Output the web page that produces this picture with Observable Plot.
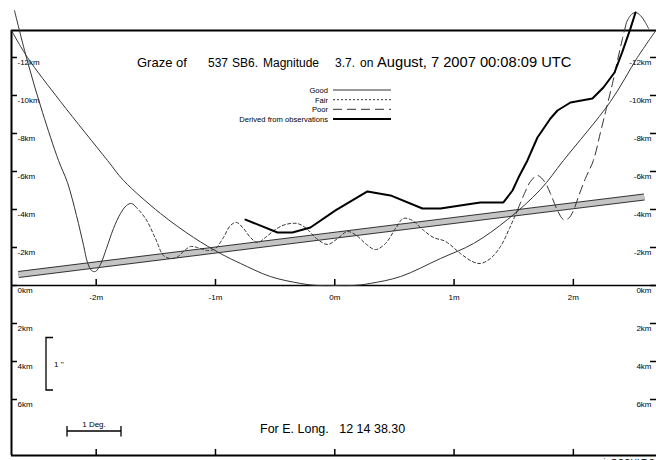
<!DOCTYPE html>
<html><head><meta charset="utf-8">
<script src="https://cdn.jsdelivr.net/npm/d3@7"></script>
<script src="https://cdn.jsdelivr.net/npm/@observablehq/plot@0.6"></script>
<style>
html,body{margin:0;padding:0;background:#fff;}
#chart{position:relative;width:656px;height:460px;overflow:hidden;}
#chart text{white-space:pre;}
</style></head><body><div id="chart"></div>
<script>
// ---- tick definitions ----
const xTicks = [-2, -1, 0, 1, 2];
const xTickLabels = ["-2m", "-1m", "0m", "1m", "2m"];
const yTicks = [-12, -10, -8, -6, -4, -2, 0, 2, 4, 6];
const yTickLabels = ["-12km", "-10km", "-8km", "-6km", "-4km", "-2km", "0km", "2km", "4km", "6km"];
const xDomain = [-2.710, 2.697];   // minutes
const yDomain = [-13.42, 8.947];   // km (negative up)

// ---- series (minutes, km) ----
const limitCurve = [
  [-2.710, -13.42], [-2.576, -12.0], [-2.299, -9.68], [-1.905, -6.58], [-1.771, -5.53],
  [-1.461, -3.79], [-1.184, -2.53], [-0.958, -1.68], [-0.790, -1.16], [-0.539, -0.47],
  [-0.288, -0.11], [-0.145, 0.0], [0.0, 0.0], [0.157, 0.0], [0.299, -0.11], [0.551, -0.47],
  [0.886, -1.42], [1.163, -2.21], [1.448, -3.47], [1.724, -5.05], [1.917, -6.58],
  [2.311, -9.68], [2.537, -12.0], [2.697, -13.47]
];
const profileGoodStart = [
  [-2.685, -14.47], [-2.576, -11.79], [-2.450, -9.11], [-2.316, -6.58], [-2.241, -5.42],
  [-2.165, -3.68], [-2.106, -2.11], [-2.073, -1.21], [-2.039, -0.79], [-2.006, -0.74],
  [-1.964, -1.11], [-1.914, -1.95], [-1.855, -3.0], [-1.796, -3.79], [-1.746, -4.21],
  [-1.704, -4.32], [-1.671, -4.16]
];
const profileFair = [
  [-1.671, -4.16], [-1.587, -3.53], [-1.503, -2.47], [-1.436, -1.58], [-1.377, -1.42],
  [-1.327, -1.47], [-1.268, -1.79], [-1.210, -2.05], [-1.151, -2.0], [-1.067, -1.84],
  [-1.000, -1.95], [-0.933, -2.53], [-0.874, -3.16], [-0.824, -3.32], [-0.765, -3.0],
  [-0.707, -2.53], [-0.648, -2.26], [-0.581, -2.53], [-0.497, -2.95], [-0.413, -3.21],
  [-0.313, -3.26], [-0.237, -3.0], [-0.153, -2.47], [-0.061, -2.16], [0.023, -2.47],
  [0.106, -2.84], [0.182, -2.63], [0.266, -2.16], [0.341, -1.89], [0.425, -2.21],
  [0.509, -3.0], [0.576, -3.53], [0.651, -3.42], [0.735, -2.95], [0.827, -2.53],
  [0.928, -2.32], [1.054, -1.68], [1.154, -1.26], [1.221, -1.16], [1.305, -1.42],
  [1.389, -2.05], [1.464, -3.0], [1.531, -3.95]
];
const profilePoor = [
  [1.531, -3.95], [1.590, -4.84], [1.640, -5.47], [1.699, -5.79], [1.758, -5.47],
  [1.808, -4.84], [1.867, -3.95], [1.917, -3.47], [1.959, -3.53], [2.001, -3.95],
  [2.043, -4.68], [2.101, -5.63], [2.168, -6.58], [2.227, -8.05], [2.277, -9.32],
  [2.328, -10.63], [2.370, -11.84], [2.412, -13.0], [2.445, -13.84]
];
const profileGoodEnd = [
  [2.445, -13.84], [2.479, -14.21], [2.521, -14.37], [2.562, -14.21], [2.604, -13.84], [2.630, -13.53]
];
const derived = [
  [-0.749, -3.47], [-0.480, -2.79], [-0.355, -2.79], [-0.204, -3.05], [0.006, -3.95],
  [0.274, -4.95], [0.467, -4.74], [0.735, -4.05], [0.886, -4.05], [1.163, -4.32],
  [1.221, -4.37], [1.414, -4.37], [1.490, -5.0], [1.540, -5.68], [1.615, -6.58],
  [1.699, -7.79], [1.808, -8.79], [1.867, -9.21], [1.976, -9.63], [2.160, -9.84],
  [2.252, -10.42], [2.345, -11.21], [2.412, -12.32], [2.479, -13.53], [2.521, -14.37]
];
const centralLine = [[-2.651, -0.58], [2.594, -4.66]];

// tick lengths expressed in data units (≈6 px)
const tickMin = 0.05, tickKm = 0.32;
const thin = "#333";
const font = "'Liberation Sans', Arial, sans-serif";

const plot = Plot.plot({
  width: 656, height: 460,
  marginLeft: 11, marginRight: 0, marginTop: 30, marginBottom: 5,
  style: {fontFamily: font, background: "white", overflow: "visible"},
  x: {domain: xDomain, axis: null},
  y: {domain: yDomain, reverse: true, axis: null},
  marks: [
    // frame (top, left, bottom) and zero line
    Plot.ruleY([yDomain[0]], {stroke: "black", strokeWidth: 2}),
    Plot.ruleY([yDomain[1]], {stroke: "black", strokeWidth: 2}),
    Plot.ruleX([xDomain[0]], {stroke: "black", strokeWidth: 2}),
    Plot.ruleY([0], {stroke: "black", strokeWidth: 1.6}),
    // y ticks left/right
    Plot.ruleY(yTicks, {y: d => d, x1: xDomain[0], x2: xDomain[0] + tickMin, stroke: "black", strokeWidth: 1.5}),
    Plot.ruleY(yTicks, {y: d => d, x1: xDomain[1] - tickMin, x2: xDomain[1], stroke: "black", strokeWidth: 1.5}),
    // x ticks on zero line and on bottom edge
    Plot.ruleX(xTicks, {x: d => d, y1: -tickKm, y2: 0.05, stroke: "black", strokeWidth: 1.5}),
    Plot.ruleX(xTicks, {x: d => d, y1: yDomain[1], y2: yDomain[1] - tickKm, stroke: "black", strokeWidth: 1.5}),
    // tick labels
    Plot.text(yTicks, {frameAnchor: "left", y: d => d, text: (d, i) => yTickLabels[i], textAnchor: "start", dx: 6, dy: 5, fontSize: 8, fill: "black"}),
    Plot.text(yTicks, {frameAnchor: "right", y: d => d, text: (d, i) => yTickLabels[i], textAnchor: "end", dx: -5, dy: 5, fontSize: 8, fill: "black"}),
    Plot.text(xTicks, {x: d => d, y: 0, text: (d, i) => xTickLabels[i], dy: 12, fontSize: 8, fill: "black"}),
    // central line band
    Plot.line(centralLine, {x: d => d[0], y: d => d[1], stroke: "#333", strokeWidth: 7, strokeLinecap: "butt"}),
    Plot.line(centralLine, {x: d => d[0], y: d => d[1], stroke: "#c4c4c4", strokeWidth: 5, strokeLinecap: "butt"}),
    // limit curve
    Plot.line(limitCurve, {x: d => d[0], y: d => d[1], stroke: thin, strokeWidth: 1, curve: "catmull-rom"}),
    // profile
    Plot.line(profileGoodStart, {x: d => d[0], y: d => d[1], stroke: thin, strokeWidth: 1, curve: "catmull-rom"}),
    Plot.line(profileFair, {x: d => d[0], y: d => d[1], stroke: thin, strokeWidth: 1, strokeDasharray: "3,2.5", curve: "catmull-rom"}),
    Plot.line(profilePoor, {x: d => d[0], y: d => d[1], stroke: thin, strokeWidth: 1, strokeDasharray: "9,5", curve: "catmull-rom"}),
    Plot.line(profileGoodEnd, {x: d => d[0], y: d => d[1], stroke: thin, strokeWidth: 1, curve: "catmull-rom"}),
    // derived from observations
    Plot.line(derived, {x: d => d[0], y: d => d[1], stroke: "black", strokeWidth: 2})
  ]
});
document.getElementById("chart").appendChild(plot);

// ---- annotations (title, legend, scale bars, captions) ----
const svg = d3.select(plot);
const g = svg.append("g").attr("font-family", font).attr("fill", "black").attr("text-anchor", "start");
const title = g.append("text").attr("y", 67).attr("text-anchor", "start");
title.append("tspan").attr("x", 137).attr("font-size", 13).text("Graze of");
title.append("tspan").attr("x", 208).attr("font-size", 12).text("537");
title.append("tspan").attr("x", 232).attr("font-size", 12).text("SB6.");
title.append("tspan").attr("x", 263).attr("font-size", 12).text("Magnitude");
title.append("tspan").attr("x", 335).attr("font-size", 12).text("3.7.");
title.append("tspan").attr("x", 360).attr("font-size", 12).text("on");
title.append("tspan").attr("x", 377).attr("font-size", 14.7).text("August, 7 2007 00:08:09 UTC");

const legendItems = [
  {label: "Good", y: 90, dash: null, w: 1},
  {label: "Fair", y: 99.7, dash: "2,2", w: 1},
  {label: "Poor", y: 109.3, dash: "9,5", w: 1},
  {label: "Derived from observations", y: 119, dash: null, w: 2}
];
legendItems.forEach(d => {
  g.append("text").attr("x", 328).attr("y", d.y + 3).attr("text-anchor", "end").attr("font-size", 7.6).text(d.label);
  g.append("line").attr("x1", 333).attr("x2", 391).attr("y1", d.y).attr("y2", d.y)
    .attr("stroke", d.w > 1 ? "black" : thin).attr("stroke-width", d.w).attr("stroke-dasharray", d.dash);
});

// 1'' bracket
const br = g.append("g").attr("stroke", "black").attr("stroke-width", 1.3).attr("fill", "none");
br.append("path").attr("d", "M53,337.5 H46 V390 H53");
g.append("text").attr("x", 54).attr("y", 367).attr("font-size", 8).text("1 ''");
// 1 Deg. bar
br.append("path").attr("d", "M67,431 H121 M67,426 V436.5 M121,426 V436.5");
g.append("text").attr("x", 94).attr("y", 427).attr("text-anchor", "middle").attr("font-size", 8).text("1 Deg.");

g.append("text").attr("x", 260).attr("y", 433).attr("font-size", 12.5).text("For E. Long.   12 14 38.30");
g.append("text").attr("x", 597).attr("y", 465).attr("font-size", 9).text("winOCCULT 3.5.6");
</script></body></html>
